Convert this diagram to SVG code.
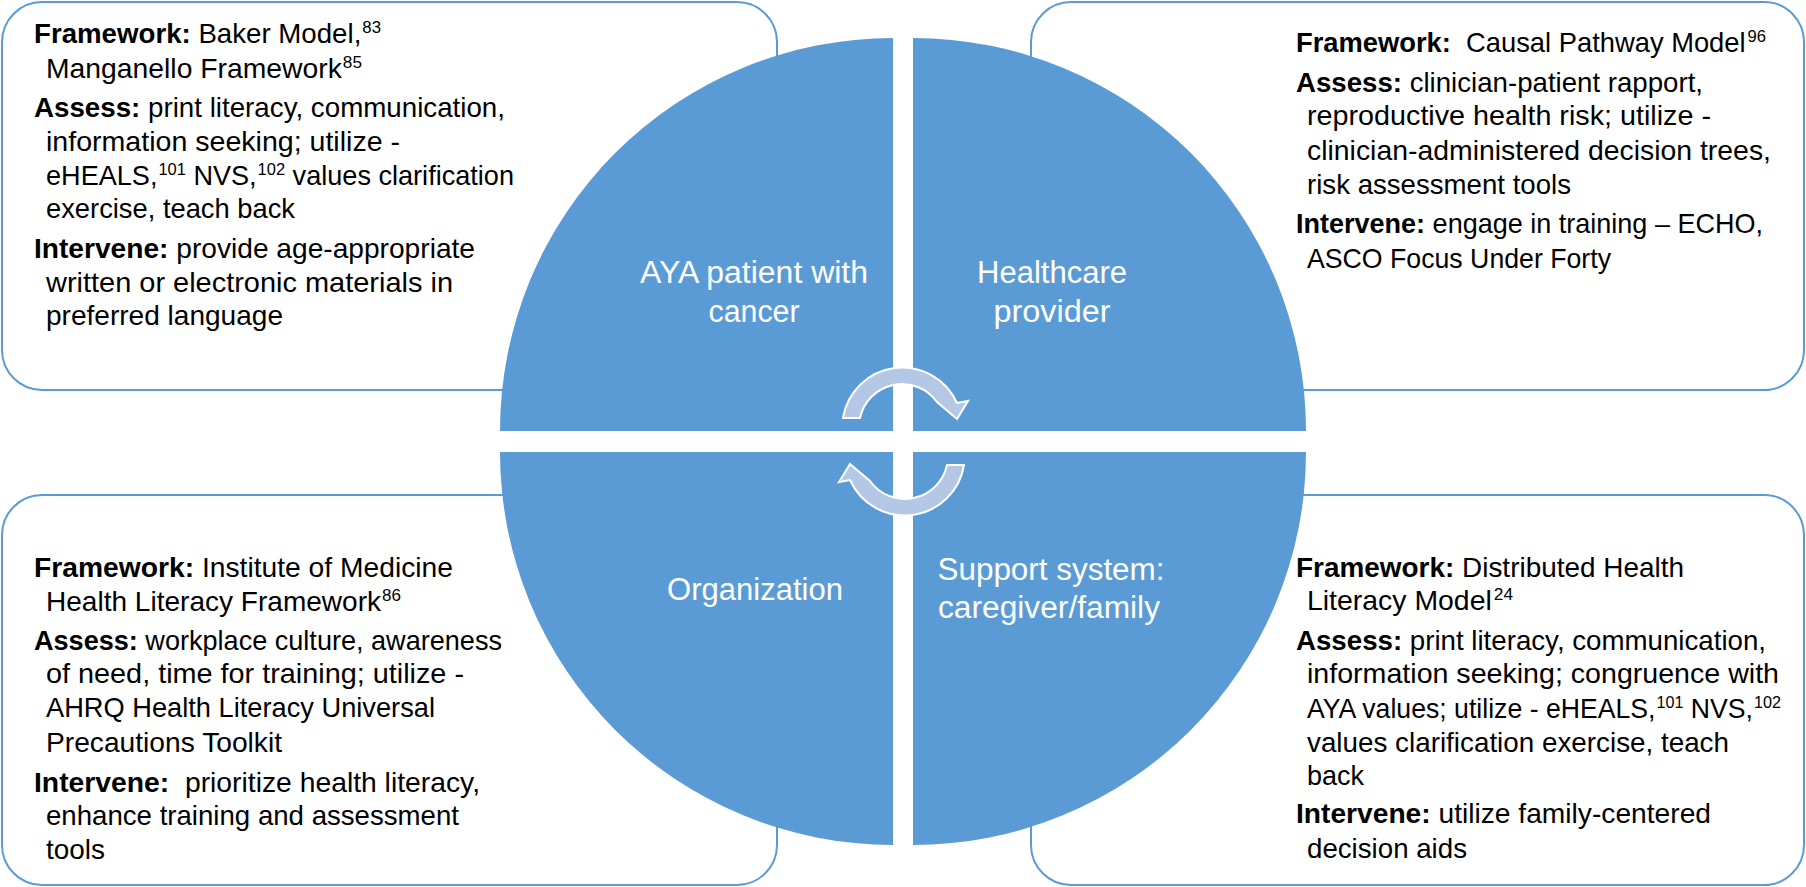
<svg xmlns="http://www.w3.org/2000/svg" width="1806" height="887" viewBox="0 0 1806 887">
<style>
.box{fill:#ffffff;stroke:#5B9BD5;stroke-width:2}
.quad{fill:#5B9BD5}
.t{font-family:"Liberation Sans",Arial,sans-serif;font-size:28px;fill:#000}
.b{font-weight:bold}
.s{font-size:17px}
.q{font-family:"Liberation Sans",Arial,sans-serif;font-size:31px;fill:#ffffff;text-anchor:middle}
.arr{fill:#B4C8E6;stroke:#ffffff;stroke-width:2;stroke-linejoin:miter}
</style>
<rect width="1806" height="887" fill="#ffffff"/>

<g id="box-patient">
<rect class="box" x="2" y="2" width="775" height="388" rx="40" ry="40"/>
<text class="t" x="34" y="43" textLength="347" lengthAdjust="spacingAndGlyphs"><tspan class="b">Framework:</tspan> Baker Model,<tspan class="s" dx="1" dy="-10">83</tspan></text>
<text class="t" x="46" y="78" textLength="316" lengthAdjust="spacingAndGlyphs">Manganello Framework<tspan class="s" dx="1" dy="-10">85</tspan></text>
<text class="t" x="34" y="117" textLength="471" lengthAdjust="spacingAndGlyphs"><tspan class="b">Assess:</tspan> print literacy, communication,</text>
<text class="t" x="46" y="151" textLength="354" lengthAdjust="spacingAndGlyphs">information seeking; utilize -</text>
<text class="t" x="46" y="185" textLength="468" lengthAdjust="spacingAndGlyphs">eHEALS,<tspan class="s" dx="1" dy="-10">101</tspan><tspan dy="10"> NVS,</tspan><tspan class="s" dx="1" dy="-10">102</tspan><tspan dy="10"> values clarification</tspan></text>
<text class="t" x="46" y="218" textLength="249" lengthAdjust="spacingAndGlyphs">exercise, teach back</text>
<text class="t" x="34" y="258" textLength="441" lengthAdjust="spacingAndGlyphs"><tspan class="b">Intervene:</tspan> provide age-appropriate</text>
<text class="t" x="46" y="292" textLength="407" lengthAdjust="spacingAndGlyphs">written or electronic materials in</text>
<text class="t" x="46" y="325" textLength="237" lengthAdjust="spacingAndGlyphs">preferred language</text>
</g>

<g id="box-provider">
<rect class="box" x="1031" y="2" width="773" height="388" rx="40" ry="40"/>
<text class="t" x="1296" y="52" textLength="470" lengthAdjust="spacingAndGlyphs" xml:space="preserve"><tspan class="b">Framework:</tspan>  Causal Pathway Model<tspan class="s" dx="2" dy="-10">96</tspan></text>
<text class="t" x="1296" y="92" textLength="407" lengthAdjust="spacingAndGlyphs"><tspan class="b">Assess:</tspan> clinician-patient rapport,</text>
<text class="t" x="1307" y="125" textLength="404" lengthAdjust="spacingAndGlyphs">reproductive health risk; utilize -</text>
<text class="t" x="1307" y="160" textLength="464" lengthAdjust="spacingAndGlyphs">clinician-administered decision trees,</text>
<text class="t" x="1307" y="194" textLength="264" lengthAdjust="spacingAndGlyphs">risk assessment tools</text>
<text class="t" x="1296" y="233" textLength="467" lengthAdjust="spacingAndGlyphs"><tspan class="b">Intervene:</tspan> engage in training – ECHO,</text>
<text class="t" x="1307" y="268" textLength="304" lengthAdjust="spacingAndGlyphs">ASCO Focus Under Forty</text>
</g>

<g id="box-organization">
<rect class="box" x="2" y="495" width="775" height="390" rx="40" ry="40"/>
<text class="t" x="34" y="577" textLength="419" lengthAdjust="spacingAndGlyphs"><tspan class="b">Framework:</tspan> Institute of Medicine</text>
<text class="t" x="46" y="611" textLength="355" lengthAdjust="spacingAndGlyphs">Health Literacy Framework<tspan class="s" dx="1" dy="-10">86</tspan></text>
<text class="t" x="34" y="650" textLength="468" lengthAdjust="spacingAndGlyphs"><tspan class="b">Assess:</tspan> workplace culture, awareness</text>
<text class="t" x="46" y="683" textLength="418" lengthAdjust="spacingAndGlyphs">of need, time for training; utilize -</text>
<text class="t" x="46" y="717" textLength="389" lengthAdjust="spacingAndGlyphs">AHRQ Health Literacy Universal</text>
<text class="t" x="46" y="752" textLength="236" lengthAdjust="spacingAndGlyphs">Precautions Toolkit</text>
<text class="t" x="34" y="792" textLength="446" lengthAdjust="spacingAndGlyphs" xml:space="preserve"><tspan class="b">Intervene:</tspan>  prioritize health literacy,</text>
<text class="t" x="46" y="825" textLength="413" lengthAdjust="spacingAndGlyphs">enhance training and assessment</text>
<text class="t" x="46" y="859" textLength="59" lengthAdjust="spacingAndGlyphs">tools</text>
</g>

<g id="box-support">
<rect class="box" x="1031" y="495" width="773" height="390" rx="40" ry="40"/>
<text class="t" x="1296" y="577" textLength="388" lengthAdjust="spacingAndGlyphs"><tspan class="b">Framework:</tspan> Distributed Health</text>
<text class="t" x="1307" y="610" textLength="206" lengthAdjust="spacingAndGlyphs">Literacy Model<tspan class="s" dx="2" dy="-10">24</tspan></text>
<text class="t" x="1296" y="650" textLength="470" lengthAdjust="spacingAndGlyphs"><tspan class="b">Assess:</tspan> print literacy, communication,</text>
<text class="t" x="1307" y="683" textLength="472" lengthAdjust="spacingAndGlyphs">information seeking; congruence with</text>
<text class="t" x="1307" y="718" textLength="474" lengthAdjust="spacingAndGlyphs">AYA values; utilize - eHEALS,<tspan class="s" dx="1" dy="-10">101</tspan><tspan dy="10"> NVS,</tspan><tspan class="s" dx="1" dy="-10">102</tspan></text>
<text class="t" x="1307" y="752" textLength="422" lengthAdjust="spacingAndGlyphs">values clarification exercise, teach</text>
<text class="t" x="1307" y="785" textLength="57" lengthAdjust="spacingAndGlyphs">back</text>
<text class="t" x="1296" y="823" textLength="415" lengthAdjust="spacingAndGlyphs"><tspan class="b">Intervene:</tspan> utilize family-centered</text>
<text class="t" x="1307" y="858" textLength="160" lengthAdjust="spacingAndGlyphs">decision aids</text>
</g>

<g id="quad-patient">
<path class="quad" d="M893 431 L500 431 A393 393 0 0 1 893 38 Z"/>
<text class="q" x="754" y="283" textLength="228" lengthAdjust="spacingAndGlyphs">AYA patient with</text>
<text class="q" x="754" y="322" textLength="91" lengthAdjust="spacingAndGlyphs">cancer</text>
</g>
<g id="quad-provider">
<path class="quad" d="M913 431 L913 38 A393 393 0 0 1 1306 431 Z"/>
<text class="q" x="1052" y="283" textLength="150" lengthAdjust="spacingAndGlyphs">Healthcare</text>
<text class="q" x="1052" y="322" textLength="117" lengthAdjust="spacingAndGlyphs">provider</text>
</g>
<g id="quad-organization">
<path class="quad" d="M893 452 L500 452 A393 393 0 0 0 893 845 Z"/>
<text class="q" x="755" y="600" textLength="176" lengthAdjust="spacingAndGlyphs">Organization</text>
</g>
<g id="quad-support">
<path class="quad" d="M913 452 L1306 452 A393 393 0 0 1 913 845 Z"/>
<text class="q" x="1051" y="580" textLength="227" lengthAdjust="spacingAndGlyphs">Support system:</text>
<text class="q" x="1049" y="618" textLength="222" lengthAdjust="spacingAndGlyphs">caregiver/family</text>
</g>

<g id="connectors">
<path id="arrow-top" class="arr" d="M843 418 A60 60 0 0 1 957 403 L968 401 L957 419 L937 402 A43 43 0 0 0 860 418 Z"/>
<path id="arrow-bottom" class="arr" d="M843 418 A60 60 0 0 1 957 403 L968 401 L957 419 L937 402 A43 43 0 0 0 860 418 Z" transform="rotate(180 903.5 441.5)"/>
</g>
</svg>
